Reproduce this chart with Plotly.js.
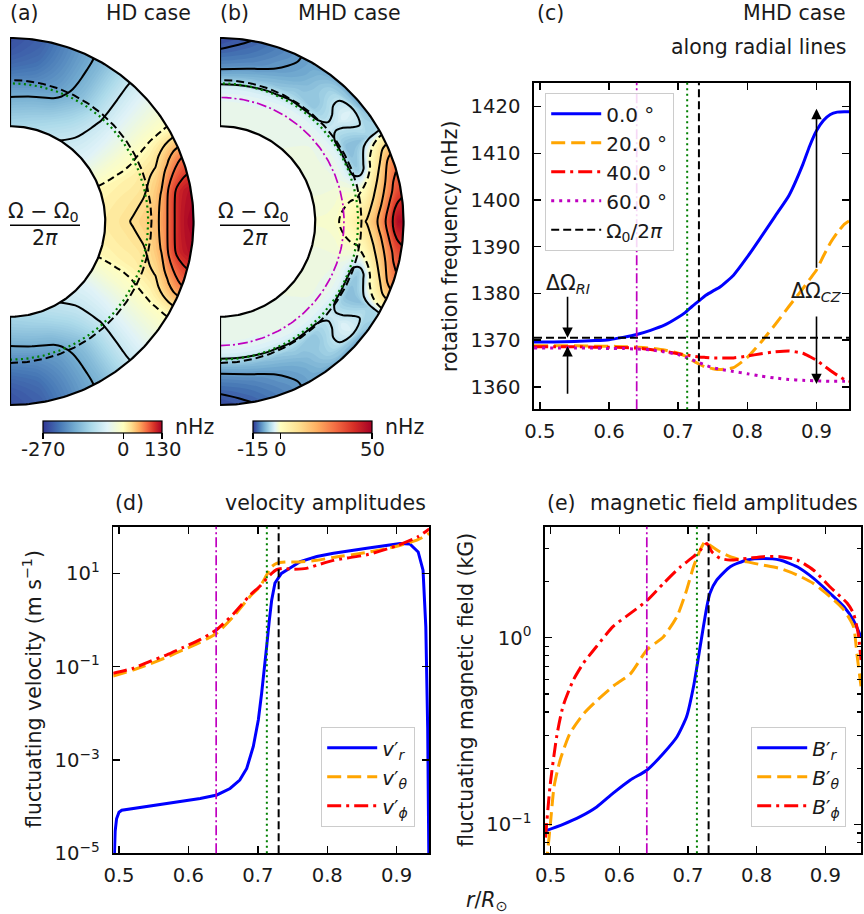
<!DOCTYPE html>
<html><head><meta charset="utf-8">
<script src="https://cdn.plot.ly/plotly-3.0.1.min.js"></script>
<style>html,body{margin:0;padding:0;background:#fff}#plot{width:864px;height:914px}</style>
</head><body><div id="plot"></div>
<script>
// ================= DATA =================
const omega0 = 1370.5;          // Omega_0 / 2pi (nHz)
const rMag = 0.64, rBase = 0.713, rTach = 0.73;
const rIn = 0.4915, rOut = 0.947;

// panel (c): rotation frequency along radial lines (nHz)
const rProfile   = [0.4915,0.52,0.55,0.58,0.60,0.62,0.64,0.66,0.68,0.70,0.71,0.72,0.73,0.74,0.75,0.76,0.78,0.80,0.82,0.84,0.86,0.88,0.89,0.90,0.91,0.92,0.93,0.94,0.947];
const omegaLat0  = [1369.6,1369.6,1369.7,1369.9,1370.1,1370.6,1371.2,1372.1,1373.2,1374.9,1375.9,1377.2,1378.4,1379.6,1380.5,1381.3,1383.9,1387.8,1392.1,1396.5,1400.9,1407.5,1411.5,1414.8,1417.0,1418.3,1418.8,1418.9,1418.9];
const omegaLat20 = [1368.8,1368.8,1368.8,1368.7,1368.7,1368.6,1368.5,1368.3,1367.9,1367.2,1366.6,1365.7,1364.9,1364.2,1363.9,1363.7,1364.1,1366.3,1369.6,1373.3,1377.2,1381.0,1383.0,1385.0,1388.0,1390.8,1393.0,1394.8,1395.5];
const omegaLat40 = [1368.6,1368.6,1368.6,1368.5,1368.5,1368.4,1368.3,1368.0,1367.6,1367.1,1366.9,1366.6,1366.4,1366.3,1366.2,1366.2,1366.2,1366.6,1367.1,1367.5,1367.7,1367.2,1366.5,1365.7,1364.6,1363.5,1362.5,1361.6,1361.2];
const omegaLat60 = [1368.3,1368.3,1368.3,1368.3,1368.2,1368.2,1368.1,1367.9,1367.5,1366.9,1366.4,1365.8,1365.2,1364.6,1364.1,1363.8,1363.3,1362.8,1362.3,1361.9,1361.6,1361.4,1361.35,1361.3,1361.25,1361.2,1361.2,1361.2,1361.2];
const profileLabels = ['0.0 °','20.0 °','40.0 °','60.0 °'];
const arrowRI = {r:0.54, downFrom:1379.6, downTo:1370.5, upFrom:1358.2, upTo:1368.7, labelY:1382};
const arrowCZ = {r:0.90, upFrom:1385.2, upTo:1419.5, downFrom:1375.4, downTo:1360.6, labelY:1380.2};

// panel (d): velocity amplitudes (m/s)
const vrR = [0.4928,0.4932,0.4945,0.4965,0.5,0.504,0.52,0.569,0.617,0.641,0.66,0.674,0.684,0.6935,0.7007,0.7055,0.710,0.7127,0.7166,0.72,0.7247,0.734,0.746,0.761,0.785,0.809,0.857,0.905,0.919,0.931,0.938,0.942,0.9447,0.9465];
const vrV = [5e-6,1.0e-5,3.0e-5,5.5e-5,7.6e-5,8.4e-5,9.1e-5,1.17e-4,1.5e-4,1.78e-4,2.45e-4,3.7e-4,6.6e-4,1.95e-3,7.2e-3,2.7e-2,0.1,0.27,1.0,2.7,6.2,10,12.9,17.8,22.9,26.9,34.7,43.7,42.7,28.8,11.7,0.72,5e-3,5e-6];
const vthR = [0.4915,0.52,0.5447,0.569,0.5927,0.6167,0.6407,0.6647,0.6887,0.703,0.7127,0.72,0.727,0.74,0.76,0.785,0.809,0.857,0.9,0.93,0.947];
const vthV = [0.063,0.085,0.115,0.16,0.23,0.33,0.52,1.18,3.2,5.2,9.2,13.9,16.4,17.5,17.5,19,22,28,38,52,72];
const vphR = [0.4915,0.52,0.5447,0.569,0.5927,0.6167,0.6407,0.6647,0.6887,0.703,0.7127,0.72,0.727,0.735,0.75,0.77,0.785,0.809,0.857,0.9,0.93,0.947];
const vphV = [0.072,0.092,0.13,0.18,0.26,0.38,0.62,1.35,3.4,5.3,7.8,10,12,12.8,12.3,12.8,15,19,25,39,60,90];

// panel (e): magnetic field amplitudes (kG)
const brR = [0.4915,0.518,0.543,0.567,0.591,0.616,0.64,0.664,0.684,0.698,0.708,0.713,0.72,0.7275,0.732,0.742,0.7615,0.786,0.81,0.834,0.859,0.883,0.907,0.927,0.941,0.952];
const brV = [0.092,0.10,0.11,0.124,0.147,0.173,0.195,0.24,0.295,0.378,0.546,0.70,1.01,1.47,1.73,2.04,2.40,2.61,2.66,2.61,2.40,2.08,1.73,1.47,1.24,1.01];
const bthR = [0.4935,0.4995,0.505,0.5136,0.528,0.5476,0.567,0.591,0.616,0.64,0.664,0.684,0.698,0.708,0.7177,0.725,0.732,0.747,0.7615,0.786,0.81,0.834,0.859,0.883,0.907,0.927,0.941,0.946,0.952];
const bthV = [0.06,0.10,0.16,0.22,0.307,0.39,0.46,0.55,0.64,0.86,1.01,1.30,1.80,2.40,2.95,3.27,3.13,2.88,2.72,2.55,2.45,2.35,2.17,1.95,1.66,1.41,1.15,0.82,0.55];
const bphR = [0.4925,0.499,0.509,0.518,0.533,0.5476,0.567,0.591,0.616,0.64,0.664,0.689,0.708,0.718,0.7275,0.735,0.747,0.7615,0.786,0.81,0.834,0.859,0.883,0.907,0.932,0.941,0.948,0.952];
const bphV = [0.085,0.16,0.30,0.43,0.593,0.73,0.90,1.15,1.35,1.58,1.95,2.40,2.72,2.95,3.20,2.88,2.66,2.61,2.66,2.72,2.72,2.61,2.30,1.87,1.53,1.35,1.05,0.76];

// panels (a),(b): meridional maps of (Omega-Omega0)/2pi (nHz), northern hemisphere rows (lat 0..90)
const rField   = [0.4915,0.55,0.60,0.64,0.68,0.70,0.72,0.73,0.76,0.80,0.84,0.88,0.92,0.947];
const latField = [0,10,20,30,40,50,60,70,80,90];
const hdField = [
  [15,19,23,27,32,35,38,40,46,66,95,115,126,130],
  [12,15,18,20,23,25,28,30,38,55,85,108,118,121],
  [5,7,9,10,12,14,16,17,21,26,40,57,72,78],
  [-22,-20,-17,-15,-12,-11,-9,-8,-6,-3,0,2,4,5],
  [-55,-55,-54,-53,-51,-50,-49,-48,-46,-44,-42,-40,-38,-38],
  [-70,-76,-80,-83,-86,-88,-88,-88,-88,-87,-86,-85,-84,-84],
  [-82,-95,-108,-118,-129,-135,-138,-140,-143,-145,-146,-147,-148,-148],
  [-95,-112,-130,-146,-161,-168,-173,-175,-180,-184,-187,-189,-190,-190],
  [-105,-122,-140,-154,-171,-180,-188,-192,-202,-212,-220,-226,-230,-232],
  [-110,-127,-145,-159,-176,-185,-194,-198,-210,-222,-232,-240,-245,-248]
];
const mhdLat10 = [-1.3,-1.3,-1.1,-0.6,-0.4,-0.3,-0.1,0.5,3.0,8.5,16,25,34,37];
const mhdLat30 = [-1.8,-1.9,-2.0,-2.2,-2.6,-3.2,-5.0,-6.2,-8.0,-8.0,-7.5,-6.5,-6.0,-5.5];
const mhdLat50 = [-2.0,-2.1,-2.2,-2.4,-2.9,-3.4,-4.8,-5.6,-7.0,-7.0,-6.5,-6.5,-7.5,-9.0];
const mhdLat70 = [-2.3,-2.3,-2.4,-2.6,-3.2,-3.8,-5.2,-6.0,-7.8,-9.0,-10.0,-10.5,-11.0,-11.2];
const mhdLat80 = [-2.3,-2.3,-2.4,-2.6,-3.3,-4.0,-5.8,-6.8,-8.5,-10.0,-11.2,-12.0,-12.6,-13.0];
const mhdLat90 = [-2.3,-2.3,-2.4,-2.6,-3.4,-4.2,-6.2,-7.3,-9.0,-10.6,-11.8,-12.8,-13.6,-14.0];
const hdLevels  = {solid:[-160,-80,25,50,75,100], dashed:[0]};
const mhdLevels = {solid:[-13,-10,-5,10,20,30,40], dashed:[0]};
const hdRange = [-270,130], mhdRange = [-15,50];
const hdTicks = [-270,0,130], mhdTicks = [-15,0,50];

// ================= BUILD =================
const FONT = 'DejaVu Sans', TXT = '#1a1a1a';
const W = 864, H = 914;
const rel = prof => rField.map(r => prof[rProfile.indexOf(r)] - omega0);
const mhdField = [rel(omegaLat0), mhdLat10, rel(omegaLat20), mhdLat30, rel(omegaLat40), mhdLat50, rel(omegaLat60), mhdLat70, mhdLat80, mhdLat90];

const rdylbu_r = ['#313695','#4575b4','#74add1','#abd9e9','#e0f3f8','#ffffbf','#fee090','#fdae61','#f46d43','#d73027','#a50026'];
function centeredScale(vmin, vmax){
  const c = -vmin/(vmax-vmin);
  return rdylbu_r.map((col,i)=>{const p=i/10; const f = p<=0.5 ? p/0.5*c : c+(p-0.5)/0.5*(1-c); return [Math.min(1,Math.max(0,f)), col];});
}
const latsFull = []; for (let L=-90; L<=90; L+=10) latsFull.push(L);
const rad = d => d*Math.PI/180;
const hidAx = {showgrid:false, showline:false, showticklabels:'none', ticks:'', startline:false, endline:false, minorgridcount:0, gridwidth:0, linewidth:0, tickmode:'array', tickvals:[], smoothing:0};

const traces = [];
function meridional(id, xa, ya, field, range, step, levels, withMag){
  const X = latsFull.map(L => rField.map(r => r*Math.cos(rad(L))));
  const Y = latsFull.map(L => rField.map(r => r*Math.sin(rad(L))));
  const Z = latsFull.map(L => field[latField.indexOf(Math.abs(L))]);
  const cs = centeredScale(range[0], range[1]);
  traces.push({type:'carpet', carpet:id, a:rField, b:latsFull, x:X, y:Y, xaxis:xa, yaxis:ya, aaxis:hidAx, baxis:hidAx, showlegend:false, hoverinfo:'skip'});
  traces.push({type:'contourcarpet', carpet:id, a:rField, b:latsFull, z:Z, xaxis:xa, yaxis:ya, autocontour:false,
    contours:{start:range[0], end:range[1], size:step, coloring:'fill', showlines:false},
    line:{width:0, smoothing:1}, colorscale:cs, zmin:range[0], zmax:range[1], showscale:false, showlegend:false, hoverinfo:'skip'});
  const addLev = (L, dash) => traces.push({type:'contourcarpet', carpet:id, a:rField, b:latsFull, z:Z, xaxis:xa, yaxis:ya, autocontour:false,
    contours:{start:L, end:L, size:1, coloring:'none', showlines:true}, line:{color:'#000', width:2, dash:dash, smoothing:1},
    showscale:false, showlegend:false, hoverinfo:'skip'});
  levels.solid.forEach(L=>addLev(L,'solid'));
  levels.dashed.forEach(L=>addLev(L,'7px,4px'));
  const deg = []; for (let d=-90; d<=90; d+=1) deg.push(d);
  const circ = (r, color, width, dash) => traces.push({type:'scatter', mode:'lines', xaxis:xa, yaxis:ya,
    x:deg.map(d=>r*Math.cos(rad(d))), y:deg.map(d=>r*Math.sin(rad(d))), line:{color, width, dash}, showlegend:false, hoverinfo:'skip'});
  circ(rBase, 'green', 2.2, '2px,3.5px');
  circ(rTach, '#000', 2, '8px,4px');
  if (withMag) circ(rMag, '#bf00bf', 1.7, '10px,3px,2px,3px');
  const back = deg.slice().reverse();
  const ox = deg.map(d=>rOut*Math.cos(rad(d))).concat(back.map(d=>rIn*Math.cos(rad(d))), [rOut*Math.cos(rad(-90))]);
  const oy = deg.map(d=>rOut*Math.sin(rad(d))).concat(back.map(d=>rIn*Math.sin(rad(d))), [rOut*Math.sin(rad(-90))]);
  traces.push({type:'scatter', mode:'lines', xaxis:xa, yaxis:ya, x:ox, y:oy, line:{color:'#000', width:2.2}, showlegend:false, hoverinfo:'skip'});
  return cs;
}
const csA = meridional('ca','x4','y4', hdField, hdRange, 5, hdLevels, false);
const csB = meridional('cb','x5','y5', mhdField, mhdRange, 0.5, mhdLevels, true);

const CB = {len:119, thick:12, top:420.7, labelY:449, leftA:43, leftB:253};
function cbarTrace(xa, ya, cs, range, ticks, left){
  return {type:'scatter', mode:'markers', xaxis:xa, yaxis:ya, x:[-5,-5], y:[0,0], showlegend:false, hoverinfo:'skip',
    marker:{color:range, cmin:range[0], cmax:range[1], colorscale:cs, size:2, showscale:true,
      colorbar:{orientation:'h', x:(left+CB.len/2)/W, xanchor:'center', y:1-CB.top/H, yanchor:'top', len:CB.len, lenmode:'pixels', thickness:CB.thick,
        outlinewidth:1.2, outlinecolor:'#000', tickmode:'array', tickvals:ticks, showticklabels:false,
        ticks:'outside', ticklen:6, tickwidth:1.2, tickcolor:'#000', xpad:0, ypad:0}}};
}
traces.push(cbarTrace('x4','y4', csA, hdRange, hdTicks, CB.leftA));
traces.push(cbarTrace('x5','y5', csB, mhdRange, mhdTicks, CB.leftB));

// panel (c)
const profCols = ['#0000ff','#ffa500','#ff0000','#bf00bf'];
const profDash = ['solid','14px,6px','14px,5px,3px,5px','3px,5px'];
[omegaLat0, omegaLat20, omegaLat40, omegaLat60].forEach((p,i)=>traces.push({type:'scatter', mode:'lines', x:rProfile, y:p, xaxis:'x', yaxis:'y',
  name:profileLabels[i], line:{color:profCols[i], width:3, dash:profDash[i], shape:'spline', smoothing:0.5}, legend:'legend'}));
traces.push({type:'scatter', mode:'lines', x:[rIn, rOut], y:[omega0, omega0], xaxis:'x', yaxis:'y', name:'Ω<sub>0</sub>/2<i>π</i>',
  line:{color:'#000', width:2, dash:'8px,4px'}, legend:'legend'});

// panel (d)
const sp = {shape:'spline', smoothing:0.6};
traces.push({type:'scatter', mode:'lines', x:vrR, y:vrV, xaxis:'x2', yaxis:'y2', name:'<i>v</i>′<sub><i>r</i></sub>', line:{color:'#0000ff', width:3}, legend:'legend2'});
traces.push({type:'scatter', mode:'lines', x:vthR, y:vthV, xaxis:'x2', yaxis:'y2', name:'<i>v</i>′<sub><i>θ</i></sub>', line:Object.assign({color:'#ffa500', width:3, dash:'14px,6px'}, sp), legend:'legend2'});
traces.push({type:'scatter', mode:'lines', x:vphR, y:vphV, xaxis:'x2', yaxis:'y2', name:'<i>v</i>′<sub><i>ϕ</i></sub>', line:Object.assign({color:'#ff0000', width:3, dash:'14px,5px,3px,5px'}, sp), legend:'legend2'});
// panel (e)
traces.push({type:'scatter', mode:'lines', x:brR, y:brV, xaxis:'x3', yaxis:'y3', name:'<i>B</i>′<sub><i>r</i></sub>', line:Object.assign({color:'#0000ff', width:3}, sp), legend:'legend3'});
traces.push({type:'scatter', mode:'lines', x:bthR, y:bthV, xaxis:'x3', yaxis:'y3', name:'<i>B</i>′<sub><i>θ</i></sub>', line:Object.assign({color:'#ffa500', width:3, dash:'14px,6px'}, sp), legend:'legend3'});
traces.push({type:'scatter', mode:'lines', x:bphR, y:bphV, xaxis:'x3', yaxis:'y3', name:'<i>B</i>′<sub><i>ϕ</i></sub>', line:Object.assign({color:'#ff0000', width:3, dash:'14px,5px,3px,5px'}, sp), legend:'legend3'});

// ================= LAYOUT =================
const ax = {showline:true, linecolor:'#000', linewidth:1.6, mirror:'ticks', ticks:'inside', ticklen:7, tickwidth:1.4, tickcolor:'#000',
  showgrid:false, zeroline:false, tickfont:{family:FONT, size:19.6, color:TXT}, fixedrange:true};
const rTicks = [0.5,0.6,0.7,0.8,0.9];
const xr = (d0,d1)=>[d0/W, d1/W], yr = (p0,p1)=>[1-p1/H, 1-p0/H];
function txt(x, y, text, o){ return Object.assign({xref:'paper', yref:'paper', x:x/W, y:1-y/H, text, showarrow:false,
  font:{family:FONT, size:20.5, color:TXT}, xanchor:'center', yanchor:'middle'}, o||{}); }
function cbLabels(ticks, range, left){ return ticks.map(t => txt(left + (t-range[0])/(range[1]-range[0])*CB.len, CB.labelY, String(t),
  {font:{family:FONT, size:19.6, color:TXT}})); }
function arrow(x, from, to){ return {xref:'x', yref:'y', axref:'x', ayref:'y', x:x, y:to, ax:x, ay:from, text:'', showarrow:true,
  arrowhead:2, arrowsize:1.3, arrowwidth:1.6, arrowcolor:'#000', standoff:0}; }
function vlines(xa, ya){ const yd = ya+' domain'; return [
  {type:'line', xref:xa, yref:yd, x0:rMag, x1:rMag, y0:0, y1:1, line:{color:'#bf00bf', width:1.7, dash:'10px,3px,2px,3px'}},
  {type:'line', xref:xa, yref:yd, x0:rBase, x1:rBase, y0:0, y1:1, line:{color:'green', width:2, dash:'2px,3.5px'}},
  {type:'line', xref:xa, yref:yd, x0:rTach, x1:rTach, y0:0, y1:1, line:{color:'#000', width:2, dash:'8px,4px'}}]; }
const legBase = {xanchor:'left', yanchor:'top', bgcolor:'rgba(255,255,255,0.85)', bordercolor:'#cccccc', borderwidth:1.2,
  font:{family:FONT, size:20, color:TXT}, itemwidth:50};

const layout = {
  width:W, height:H, margin:{l:0,r:0,t:0,b:0}, paper_bgcolor:'#fff', plot_bgcolor:'rgba(0,0,0,0)',
  font:{family:FONT, color:TXT, size:19.6}, hovermode:false,
  xaxis:Object.assign({}, ax, {domain:xr(534,849), anchor:'y', range:[rIn,rOut], tickvals:rTicks, ticklabelstandoff:4}),
  yaxis:Object.assign({}, ax, {domain:yr(82.7,409.3), anchor:'x', range:[1355.2,1425.1], tickvals:[1360,1370,1380,1390,1400,1410,1420], ticklabelstandoff:8}),
  xaxis2:Object.assign({}, ax, {domain:xr(113.3,429), anchor:'y2', range:[0.4918,0.9466], tickvals:rTicks, ticklabelstandoff:4}),
  yaxis2:Object.assign({}, ax, {domain:yr(526.7,853.3), anchor:'x2', type:'log', range:[-5,2], tickvals:[1e-5,1e-3,1e-1,1e1],
    ticktext:['10<sup>−5</sup>','10<sup>−3</sup>','10<sup>−1</sup>','10<sup>1</sup>'], ticklabelstandoff:8}),
  xaxis3:Object.assign({}, ax, {domain:xr(545,861), anchor:'y3', range:[0.4917,0.952], tickvals:rTicks, ticklabelstandoff:4}),
  yaxis3:Object.assign({}, ax, {domain:yr(526.7,853.3), anchor:'x3', type:'log', range:[-1.155,0.595], tickvals:[0.1,1],
    ticktext:['10<sup>−1</sup>','10<sup>0</sup>'], ticklabelstandoff:8,
    minor:{tickvals:[0.08,0.09,0.2,0.3,0.4,0.5,0.6,0.7,0.8,0.9,2,3], ticks:'inside', ticklen:4, tickwidth:1.2, tickcolor:'#000', showgrid:false}}),
  xaxis4:{domain:xr(10,200), range:[0,0.9804], visible:false, anchor:'y4', fixedrange:true},
  yaxis4:{domain:yr(28,415), range:[-0.9985,0.9985], visible:false, anchor:'x4', fixedrange:true},
  xaxis5:{domain:xr(220,410), range:[0,0.9804], visible:false, anchor:'y5', fixedrange:true},
  yaxis5:{domain:yr(28,415), range:[-0.9985,0.9985], visible:false, anchor:'x5', fixedrange:true},
  legend:Object.assign({}, legBase, {x:545/W, y:1-93/H}),
  legend2:Object.assign({}, legBase, {x:321/W, y:1-727/H}),
  legend3:Object.assign({}, legBase, {x:751/W, y:1-727/H}),
  shapes:[].concat(vlines('x','y'), vlines('x2','y2'), vlines('x3','y3'), [
    {type:'line', xref:'paper', yref:'paper', x0:10/W, x1:80/W, y0:1-225.3/H, y1:1-225.3/H, line:{color:'#000', width:1.4}},
    {type:'line', xref:'paper', yref:'paper', x0:220/W, x1:290/W, y0:1-225.3/H, y1:1-225.3/H, line:{color:'#000', width:1.4}}]),
  annotations:[].concat([
    txt(8,13,'(a)',{xanchor:'left'}), txt(193,13,'HD case',{xanchor:'right'}),
    txt(218,13,'(b)',{xanchor:'left'}), txt(403,13,'MHD case',{xanchor:'right'}),
    txt(535,13,'(c)',{xanchor:'left'}), txt(848,13,'MHD case',{xanchor:'right'}), txt(848,47,'along radial lines',{xanchor:'right'}),
    txt(113,503,'(d)',{xanchor:'left'}), txt(428,503,'velocity amplitudes',{xanchor:'right'}),
    txt(545,503,'(e)',{xanchor:'left'}), txt(860,503,'magnetic field amplitudes',{xanchor:'right'}),
    txt(173,427,'nHz',{xanchor:'left'}), txt(383,427,'nHz',{xanchor:'left'}),
    txt(487,901,'<i>r</i>/<i>R</i><sub>⊙</sub>'),
    txt(450,247,'rotation frequency (nHz)',{textangle:-90}),
    txt(32,689,'fluctuating velocity (m s<sup>−1</sup>)',{textangle:-90}),
    txt(466,690,'fluctuating magnetic field (kG)',{textangle:-90}),
    txt(43,212,'Ω − Ω<sub>0</sub>'), txt(45,238,'2<i>π</i>'),
    txt(253,212,'Ω − Ω<sub>0</sub>'), txt(255,238,'2<i>π</i>'),
    {xref:'x', yref:'y', x:arrowRI.r, y:arrowRI.labelY, text:'ΔΩ<sub><i>RI</i></sub>', showarrow:false, font:{family:FONT, size:20.5, color:TXT}},
    {xref:'x', yref:'y', x:arrowCZ.r, y:arrowCZ.labelY, text:'ΔΩ<sub><i>CZ</i></sub>', showarrow:false, font:{family:FONT, size:20.5, color:TXT}},
    arrow(arrowRI.r, arrowRI.downFrom, arrowRI.downTo), arrow(arrowRI.r, arrowRI.upFrom, arrowRI.upTo),
    arrow(arrowCZ.r, arrowCZ.upFrom, arrowCZ.upTo), arrow(arrowCZ.r, arrowCZ.downFrom, arrowCZ.downTo)
  ], cbLabels(hdTicks, hdRange, CB.leftA), cbLabels(mhdTicks, mhdRange, CB.leftB))
};
Plotly.newPlot('plot', traces, layout, {staticPlot:true, displayModeBar:false});
</script></body></html>
